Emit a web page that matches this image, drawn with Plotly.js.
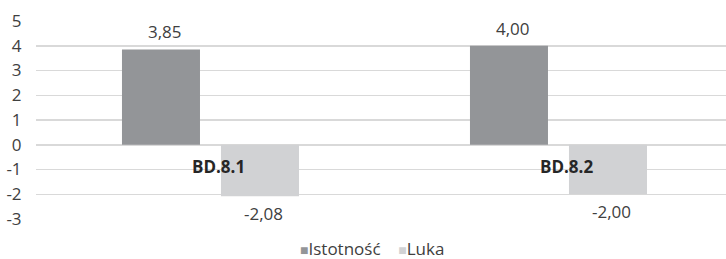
<!DOCTYPE html>
<html>
<head>
<meta charset="utf-8">
<script src="https://cdn.plot.ly/plotly-3.0.1.min.js"></script>
<style>html,body{margin:0;padding:0;background:#fff;}#chart{width:726px;height:259px;}</style>
</head>
<body>
<div id="chart"></div>
<script>
var categories = ['BD.8.1', 'BD.8.2'];
var seriesNames = ['Istotność', 'Luka'];
var istotnosc = [3.85, 4.00];
var luka = [-2.08, -2.00];
var yTicks = [5, 4, 3, 2, 1, 0, -1, -2, -3];

var colors = ['#939598', '#d1d2d4'];
var textColor = '#404040';
var fontFamily = 'Open Sans, sans-serif';
var fs = 17;

function fmt(v) { return v.toFixed(2).replace('.', ','); }

var traces = [
  {type: 'bar', name: seriesNames[0], x: categories, y: istotnosc, marker: {color: colors[0]}, hoverinfo: 'none'},
  {type: 'bar', name: seriesNames[1], x: categories, y: luka, marker: {color: colors[1]}, hoverinfo: 'none'}
];

var annotations = [];
var off = 0.142;
[istotnosc, luka].forEach(function(arr, s) {
  arr.forEach(function(v, i) {
    annotations.push({
      xref: 'x', yref: 'y', x: i + (s === 0 ? -off : off), y: v,
      text: fmt(v), showarrow: false, xshift: 4,
      yshift: v >= 0 ? 17.5 : -17,
      xanchor: 'center', yanchor: 'middle',
      font: {family: fontFamily, size: fs, color: textColor}
    });
  });
});
categories.forEach(function(c, i) {
  annotations.push({
    xref: 'x', yref: 'y', x: i, y: 0, text: '<b>' + c + '</b>', showarrow: false,
    xshift: 8, yshift: -21.5, xanchor: 'center', yanchor: 'middle',
    font: {family: fontFamily, size: fs, color: '#262626'}
  });
});
annotations.push({
  xref: 'paper', yref: 'paper', x: (372 - 36) / 690, y: -29 / 198,
  xanchor: 'center', yanchor: 'middle', showarrow: false,
  text: '<span style="color:' + colors[0] + ';font-size:14px">■</span>' + seriesNames[0] +
        '&nbsp;&nbsp;&nbsp;&nbsp;<span style="color:' + colors[1] + ';font-size:14px">■</span>' + seriesNames[1],
  font: {family: fontFamily, size: fs, color: textColor}
});

var layout = {
  width: 726, height: 259,
  margin: {l: 36, r: 0, t: 21, b: 40, pad: 0},
  paper_bgcolor: '#ffffff', plot_bgcolor: '#ffffff',
  barmode: 'group', bargap: 0.431, bargroupgap: 0.212,
  showlegend: false,
  font: {family: fontFamily, size: fs, color: textColor},
  xaxis: {
    type: 'category', range: [-0.5014, 1.4814], showticklabels: false,
    showgrid: false, zeroline: false, showline: false, ticks: '', fixedrange: true
  },
  yaxis: {
    range: [-3, 5], tickvals: yTicks, ticktext: yTicks.map(String),
    showgrid: true, gridcolor: '#d9d9d9', gridwidth: 1.5,
    zeroline: true, zerolinecolor: '#d9d9d9', zerolinewidth: 1.5,
    showline: false, ticks: 'outside', ticklen: 10, tickcolor: 'rgba(0,0,0,0)',
    tickfont: {family: fontFamily, size: fs, color: textColor}, fixedrange: true
  },
  annotations: annotations
};

Plotly.newPlot('chart', traces, layout, {displayModeBar: false, staticPlot: true});
</script>
</body>
</html>
